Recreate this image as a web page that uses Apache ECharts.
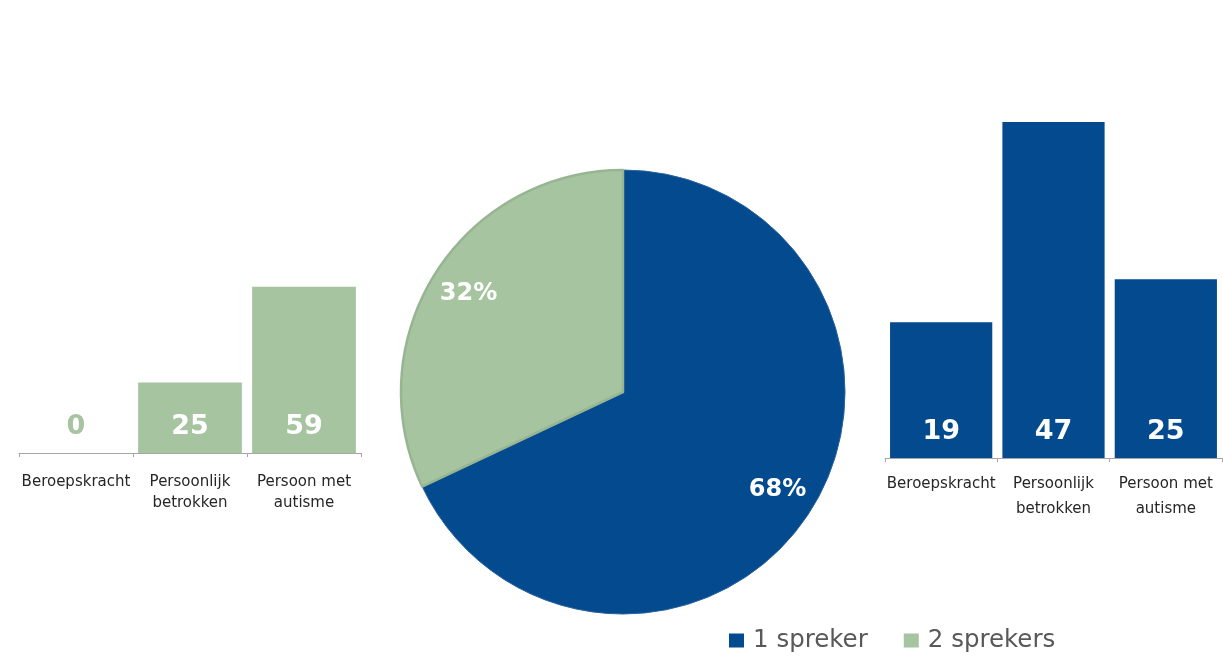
<!DOCTYPE html>
<html>
<head>
<meta charset="utf-8">
<script src="https://cdn.jsdelivr.net/npm/echarts@6/dist/echarts.min.js"></script>
<style>
html,body{margin:0;padding:0;background:#fff;}
#chart{width:1223px;height:657px;}
</style>
</head>
<body>
<div id="chart"></div>
<script>
var categories = ['Beroepskracht', 'Persoonlijk\nbetrokken', 'Persoon met\nautisme'];
var twoSpeakersValues = [0, 25, 59];
var oneSpeakerValues = [19, 47, 25];
var pieNames = ['1 spreker', '2 sprekers'];
var pieValues = [68, 32];

var BLUE = '#034a8e';
var GREEN = '#a6c4a0';
var FONT = 'DejaVu Sans';

var chart = echarts.init(document.getElementById('chart'));

function barData(vals, color) {
  return vals.map(function (v) {
    return { value: v, label: { color: v === 0 ? color : '#ffffff' } };
  });
}

function makeXAxis(gridIndex, margin, lineHeight) {
  return {
    gridIndex: gridIndex,
    type: 'category',
    data: categories,
    axisLine: { lineStyle: { color: '#a6a6a6', width: 1 } },
    axisTick: { show: true, length: 4, lineStyle: { color: '#a6a6a6' } },
    axisLabel: { color: '#262626', fontFamily: FONT, fontSize: 15, lineHeight: lineHeight, margin: margin, interval: 0 }
  };
}

var barLabel = {
  show: true,
  position: 'insideBottom',
  distance: 13,
  fontFamily: FONT,
  fontWeight: 'bold',
  fontSize: 27,
  lineHeight: 27
};

var option = {
  backgroundColor: '#ffffff',
  animation: false,
  legend: {
    left: 724,
    top: 623,
    itemWidth: 15,
    itemHeight: 14,
    itemGap: 36,
    icon: 'rect',
    textStyle: { color: '#595959', fontFamily: FONT, fontSize: 24.5, padding: [0, 0, 0, 4] },
    data: [
      { name: pieNames[0], itemStyle: { color: BLUE, borderWidth: 0 } },
      { name: pieNames[1], itemStyle: { color: GREEN, borderWidth: 0 } }
    ]
  },
  grid: [
    { left: 19, right: 1223 - 361, top: 284, bottom: 657 - 453 },
    { left: 885, right: 1, top: 100.5, bottom: 657 - 458 }
  ],
  xAxis: [
    makeXAxis(0, 19, 21),
    makeXAxis(1, 14, 25)
  ],
  yAxis: [
    { gridIndex: 0, type: 'value', min: 0, max: 60, show: false, splitLine: { show: false } },
    { gridIndex: 1, type: 'value', min: 0, max: 50, show: false, splitLine: { show: false } }
  ],
  series: [
    {
      type: 'bar', xAxisIndex: 0, yAxisIndex: 0,
      data: barData(twoSpeakersValues, GREEN),
      barCategoryGap: '9%',
      itemStyle: { color: GREEN },
      label: barLabel
    },
    {
      type: 'bar', xAxisIndex: 1, yAxisIndex: 1,
      data: barData(oneSpeakerValues, BLUE),
      barCategoryGap: '9%',
      itemStyle: { color: BLUE },
      label: barLabel
    },
    {
      type: 'pie',
      center: [623, 392],
      radius: [0, 222],
      startAngle: 90,
      clockwise: true,
      label: { show: false },
      labelLine: { show: false },
      data: [
        { name: pieNames[0], value: pieValues[0], itemStyle: { color: BLUE, borderColor: '#2a629c', borderWidth: 1 } },
        { name: pieNames[1], value: pieValues[1], itemStyle: { color: GREEN, borderColor: '#97b592', borderWidth: 2.5 } }
      ]
    },
    {
      type: 'pie',
      center: [623, 392],
      radius: [0, 360],
      startAngle: 90,
      clockwise: true,
      silent: true,
      z: 5,
      itemStyle: { color: 'rgba(0,0,0,0)', borderWidth: 0 },
      labelLine: { show: false },
      label: {
        show: true,
        position: 'inside',
        formatter: '{c}%',
        color: '#ffffff',
        fontFamily: FONT,
        fontWeight: 'bold',
        fontSize: 24
      },
      data: pieNames.map(function (n, i) { return { name: n, value: pieValues[i] }; })
    }
  ]
};

chart.setOption(option);
</script>
</body>
</html>
